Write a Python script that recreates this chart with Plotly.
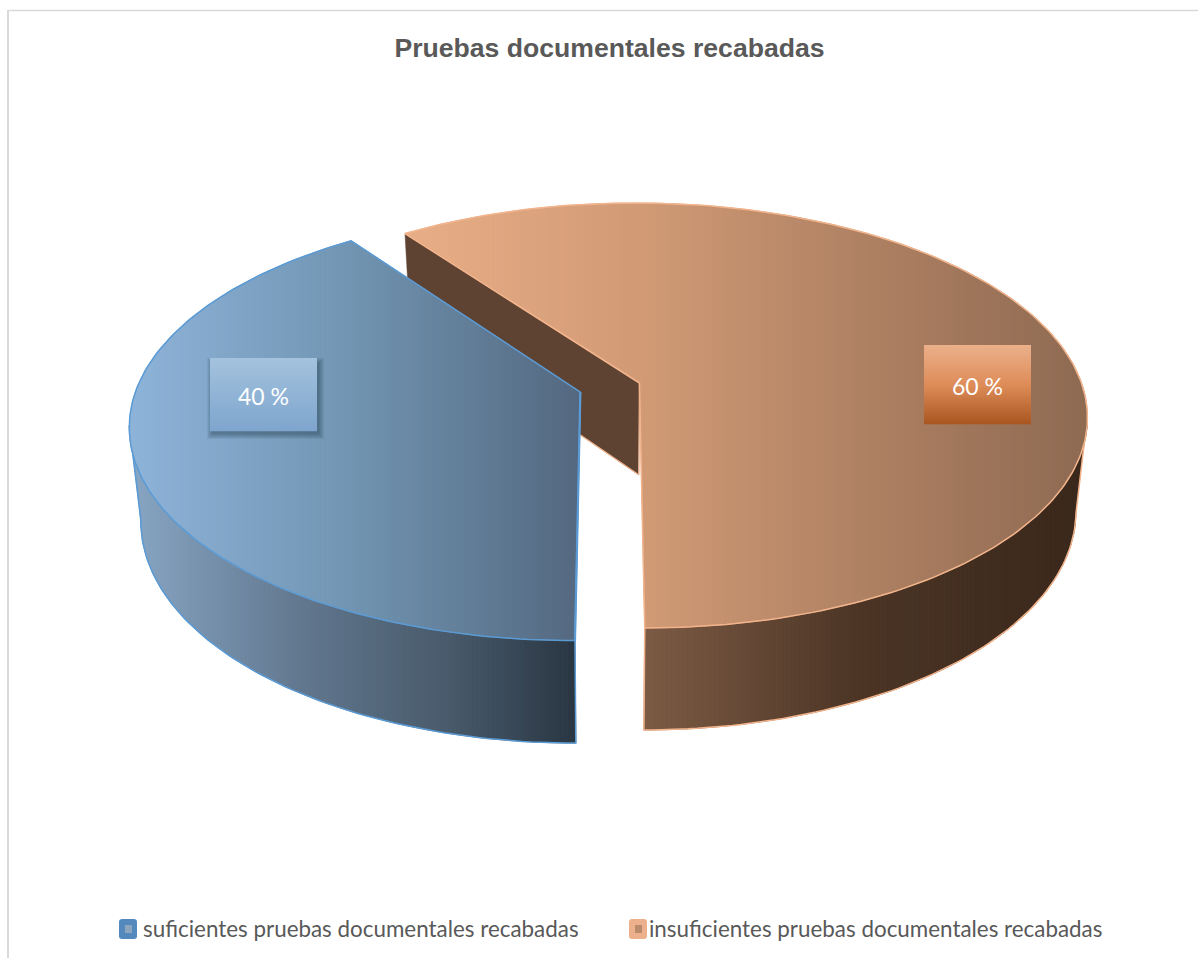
import math
import plotly.graph_objects as go

# ---------- data ----------
categories = ["suficientes pruebas documentales recabadas",
              "insuficientes pruebas documentales recabadas"]
values = [40, 60]
title_text = "Pruebas documentales recabadas"

# ---------- view (perspective of the tilted pie) ----------
W, H = 1198, 958
VX, VY = 610.0, 387.5
A, B, K = 443.5, 208.9, 0.1534
EXPLODE = 0.07
DEPTH, DK, SHRINK = 92.0, 0.10, 0.976
START = 180.0


def lerp_color(stops, x):
    if x <= stops[0][0]:
        return stops[0][1]
    for (x0, c0), (x1, c1) in zip(stops, stops[1:]):
        if x <= x1:
            t = (x - x0) / (x1 - x0)
            return tuple(a + (b - a) * t for a, b in zip(c0, c1))
    return stops[-1][1]


def css(c):
    return "rgb(%d,%d,%d)" % tuple(round(v) for v in c)


def top_pt(center, theta=None):
    u, v = center
    if theta is not None:
        r = math.radians(theta)
        u += math.sin(r)
        v += math.cos(r)
    w = 1 + K * v
    return VX + A * u / w, VY - B * v / w, v


def bot_pt(center, theta=None):
    x, y, v = top_pt(center, theta)
    return VX + (x - VX) * SHRINK, y + DEPTH / (1 + DK * v)


def clip_strip(poly, x0, x1):
    def clip(pts, keep, cut):
        out = []
        for i, p in enumerate(pts):
            q = pts[(i + 1) % len(pts)]
            kp, kq = keep(p[0]), keep(q[0])
            if kp:
                out.append(p)
            if kp != kq:
                t = (cut - p[0]) / (q[0] - p[0])
                out.append((cut, p[1] + (q[1] - p[1]) * t))
        return out
    res = clip(poly, lambda x: x >= x0, x0)
    if res:
        res = clip(res, lambda x: x <= x1, x1)
    return res


fig = go.Figure()


def add_gradient(poly, stops, name, step=4):
    xs = [p[0] for p in poly]
    x = math.floor(min(xs))
    xmax = max(xs)
    while x < xmax:
        piece = clip_strip(poly, x, x + step)
        if len(piece) >= 3:
            col = css(lerp_color(stops, x + step / 2))
            fig.add_trace(go.Scatter(
                x=[p[0] for p in piece] + [piece[0][0]],
                y=[p[1] for p in piece] + [piece[0][1]],
                mode="lines", fill="toself", fillcolor=col,
                line=dict(color=col, width=0.8), name=name,
                hoverinfo="skip", showlegend=False))
        x += step


def add_line(pts, color, width=1.5):
    fig.add_trace(go.Scatter(x=[p[0] for p in pts], y=[p[1] for p in pts],
                             mode="lines", line=dict(color=color, width=width),
                             hoverinfo="skip", showlegend=False))


def arc(a0, a1):
    n = max(2, int(abs(a1 - a0)))
    return [a0 + (a1 - a0) * i / n for i in range(n + 1)]


total = sum(values)
spans = []
a = START
for val in values:
    b = a + 360.0 * val / total
    spans.append((a, b))
    a = b


def slice_center(span):
    mid = math.radians((span[0] + span[1]) / 2)
    return EXPLODE * math.sin(mid), EXPLODE * math.cos(mid)


def silhouette(center, span, side):
    """Angle on the rim where the slice's outline turns (extreme x on screen)."""
    angles = arc(span[0], span[1])
    pick = max if side > 0 else min
    return pick(angles, key=lambda t: top_pt(center, t)[0])


ORANGE_TOP = [(403, (232, 174, 135)), (640, (209, 155, 118)),
              (900, (170, 125, 96)), (1088, (142, 106, 82))]
ORANGE_SIDE = [(645, (124, 91, 69)), (860, (76, 53, 37)), (1080, (58, 40, 28))]
BLUE_TOP = [(126, (143, 180, 218)), (350, (113, 149, 178)), (580, (84, 104, 128))]
BLUE_SIDE = [(130, (136, 166, 196)), (300, (98, 120, 143)),
             (450, (72, 90, 107)), (575, (42, 55, 67))]
WALL = (94, 66, 50)
BLUE_EDGE, ORANGE_EDGE = "#5B9BD5", "#F2B48C"

# ---------- orange slice (drawn first, it lies behind) ----------
sp = spans[1]
c = slice_center(sp)
apex_t = top_pt(c)[:2]
apex_b = bot_pt(c)
rim_t = top_pt(c, sp[0])[:2]
rim_b = bot_pt(c, sp[0])
wall = [apex_t, rim_t, rim_b, apex_b]
fig.add_trace(go.Scatter(x=[p[0] for p in wall] + [apex_t[0]], y=[p[1] for p in wall] + [apex_t[1]],
                         mode="lines", fill="toself", fillcolor=css(WALL),
                         line=dict(color=css(WALL), width=0.5), hoverinfo="skip", showlegend=False))
add_line([rim_b, apex_b, apex_t], ORANGE_EDGE, 1.2)
front = arc(silhouette(c, sp, 1), sp[1])
side = [top_pt(c, t)[:2] for t in front] + [bot_pt(c, t) for t in reversed(front)]
add_gradient(side, ORANGE_SIDE, categories[1])
add_line([top_pt(c, front[0])[:2]] + [bot_pt(c, t) for t in front] + [top_pt(c, sp[1])[:2]], ORANGE_EDGE, 1.5)
top = [apex_t] + [top_pt(c, t)[:2] for t in arc(sp[0], sp[1])]
add_gradient(top, ORANGE_TOP, categories[1])
add_line(top + [apex_t], ORANGE_EDGE, 1.5)

# ---------- blue slice ----------
sp = spans[0]
c = slice_center(sp)
apex_t = top_pt(c)[:2]
rim_t = top_pt(c, sp[0])[:2]
rim_b = bot_pt(c, sp[0])
front = arc(sp[0], silhouette(c, sp, -1))
side = [top_pt(c, t)[:2] for t in front] + [bot_pt(c, t) for t in reversed(front)]
add_gradient(side, BLUE_SIDE, categories[0])
add_line([rim_t] + [bot_pt(c, t) for t in front] + [top_pt(c, front[-1])[:2]], BLUE_EDGE, 1.5)
top = [apex_t] + [top_pt(c, t)[:2] for t in arc(sp[0], sp[1])]
add_gradient(top, BLUE_TOP, categories[0])
add_line(top + [apex_t], BLUE_EDGE, 1.5)
add_line([apex_t, rim_t], BLUE_EDGE, 2.2)

# ---------- frame, labels, legend ----------
shapes = [
    dict(type="line", x0=8, x1=8, y0=10, y1=958, line=dict(color="#D9D9D9", width=2)),
    dict(type="line", x0=8, x1=1198, y0=10.5, y1=10.5, line=dict(color="#D9D9D9", width=1.5)),
]


def grad_box(x0, y0, x1, y1, stops, shadow=False):
    if shadow:
        for i in range(6, 0, -1):
            shapes.append(dict(type="rect", x0=x0 + 3 - i, x1=x1 + 1 + i, y0=y0 + 6 - i, y1=y1 + 2 + i,
                               line=dict(width=0), fillcolor="rgba(30,45,60,0.08)"))
    n = int(y1 - y0)
    for i in range(n):
        col = css(lerp_color(stops, i / n))
        shapes.append(dict(type="rect", x0=x0, x1=x1, y0=y0 + i, y1=y0 + i + 1.3,
                           line=dict(width=0), fillcolor=col))


grad_box(210, 358, 317, 431, [(0, (163, 194, 221)), (1, (126, 165, 206))], shadow=True)
grad_box(924, 345, 1031, 424, [(0, (235, 176, 138)), (0.5, (222, 140, 88)), (1, (168, 85, 32))])

annotations = [
    dict(x=263.5, y=395.5, text=f"{values[0]} %", showarrow=False,
         font=dict(family="Lato", size=23, color="white")),
    dict(x=977.5, y=385.5, text=f"{values[1]} %", showarrow=False,
         font=dict(family="Lato", size=23, color="white")),
    dict(x=140.5, y=928, text=categories[0], xanchor="left", showarrow=False,
         font=dict(family="Lato", size=22.4, color="#595959")),
    dict(x=647, y=928, text=categories[1], xanchor="left", showarrow=False,
         font=dict(family="Lato", size=22.4, color="#595959")),
]


def legend_key(x0, y0, w, h, outer, inner):
    r = 3
    x1, y1 = x0 + w, y0 + h
    path = (f"M{x0+r},{y0} L{x1-r},{y0} Q{x1},{y0} {x1},{y0+r} L{x1},{y1-r} Q{x1},{y1} {x1-r},{y1} "
            f"L{x0+r},{y1} Q{x0},{y1} {x0},{y1-r} L{x0},{y0+r} Q{x0},{y0} {x0+r},{y0} Z")
    shapes.append(dict(type="path", path=path, fillcolor=outer, line=dict(width=0)))
    shapes.append(dict(type="rect", x0=x0 + 6, x1=x1 - 5, y0=y0 + 6, y1=y1 - 6, fillcolor=inner, line=dict(width=0)))


legend_key(119, 919, 18, 20, "#5489BD", "#8CA6C0")
legend_key(629, 919, 18, 20, "#EDB08C", "#B98A6C")

fig.update_layout(
    width=W, height=H, margin=dict(l=0, r=0, t=0, b=0),
    paper_bgcolor="white", plot_bgcolor="white", showlegend=False,
    title=dict(text=title_text, x=609.5 / W, xanchor="center", y=1 - 48 / H, yanchor="middle",
               font=dict(family="Liberation Sans, Arial", size=26.6, color="#595959", weight="bold")),
    xaxis=dict(range=[0, W], visible=False, fixedrange=True),
    yaxis=dict(range=[H, 0], visible=False, fixedrange=True),
    shapes=shapes, annotations=annotations,
)
fig.write_html("out.html", config=dict(displayModeBar=False),
               post_script="document.body.style.margin='0';document.body.style.overflow='hidden';")
